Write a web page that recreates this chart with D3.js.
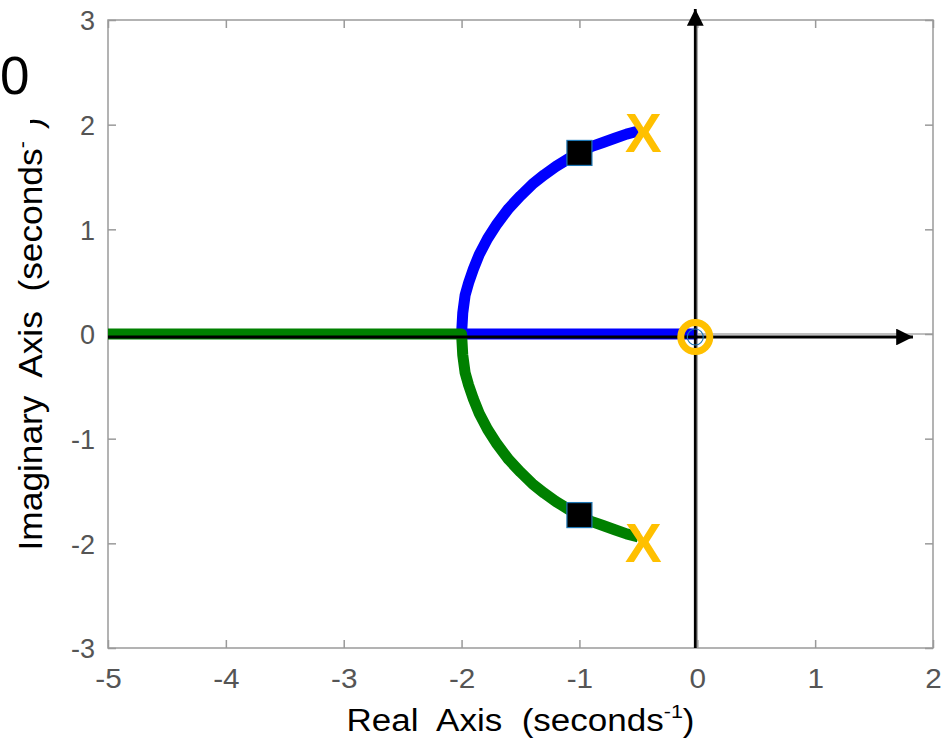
<!DOCTYPE html>
<html>
<head>
<meta charset="utf-8">
<script src="https://cdn.jsdelivr.net/npm/d3@7"></script>
<style>
  html, body { margin: 0; padding: 0; background: #fff; }
  svg { display: block; font-family: "Liberation Sans", Arial, sans-serif; }
</style>
</head>
<body>
<svg id="chart" width="945" height="738"></svg>
<script>
// Axis ranges and ticks
const xTicks = [-5, -4, -3, -2, -1, 0, 1, 2];
const yTicks = [-3, -2, -1, 0, 1, 2, 3];

// Upper branch of the locus (real, imag), from the pole to the break-in point, then along the real axis to the zero
const upperRe = [-0.5, -0.6, -0.7, -0.8, -0.9, -1.0, -1.1, -1.2, -1.3, -1.4, -1.5, -1.6, -1.7, -1.78, -1.85, -1.9, -1.94, -1.97, -1.99, -2.0, -1.5, -1.0, -0.5, 0];
const upperIm = [1.94, 1.91, 1.87, 1.83, 1.79, 1.73, 1.67, 1.6, 1.52, 1.43, 1.32, 1.2, 1.05, 0.91, 0.76, 0.62, 0.49, 0.37, 0.2, 0, 0, 0, 0, 0];

// Lower branch: from the pole down to the break-in point, then out along the negative real axis
const lowerRe = [-0.5, -0.6, -0.7, -0.8, -0.9, -1.0, -1.1, -1.2, -1.3, -1.4, -1.5, -1.6, -1.7, -1.78, -1.85, -1.9, -1.94, -1.97, -1.99, -2.0, -3.0, -4.0, -5.0];
const lowerIm = [-1.94, -1.91, -1.87, -1.83, -1.79, -1.73, -1.67, -1.6, -1.52, -1.43, -1.32, -1.2, -1.05, -0.91, -0.76, -0.62, -0.49, -0.37, -0.2, 0, 0, 0, 0];

// Open-loop poles, zero and the highlighted closed-loop roots
const poleRe = [-0.5, -0.5];
const poleIm = [1.94, -1.94];
const zeroRe = [0];
const zeroIm = [0];
const rootRe = [-1.0, -1.0];
const rootIm = [1.73, -1.73];

const svg = d3.select("#chart");
const plotL = 108, plotR = 933, plotT = 20, plotB = 648;

const x = d3.scaleLinear().domain([-5, 2]).range([plotL, plotR]);
const y = d3.scaleLinear().domain([-3, 3]).range([plotB, plotT]);

const frameColor = "#9a9a9a";
const tickText = "#555555";
const fmt = d => String(d);   // plain hyphen-minus

// Zero reference lines
svg.append("line").attr("x1", plotL).attr("x2", plotR).attr("y1", y(0)).attr("y2", y(0))
  .attr("stroke", "#aaaaaa").attr("stroke-width", 1.5);
svg.append("line").attr("x1", x(0)).attr("x2", x(0)).attr("y1", plotT).attr("y2", plotB)
  .attr("stroke", "#aaaaaa").attr("stroke-width", 1.5);

// Frame
svg.append("rect").attr("x", plotL).attr("y", plotT).attr("width", plotR - plotL).attr("height", plotB - plotT)
  .attr("fill", "none").attr("stroke", frameColor).attr("stroke-width", 1.5);

// Axes with inward ticks, mirrored on the top and right
const gx = svg.append("g").attr("transform", `translate(0,${plotB})`)
  .call(d3.axisBottom(x).tickValues(xTicks).tickSizeInner(-8).tickSizeOuter(0).tickPadding(25).tickFormat(fmt));
const gxTop = svg.append("g").attr("transform", `translate(0,${plotT})`)
  .call(d3.axisTop(x).tickValues(xTicks).tickSizeInner(-8).tickSizeOuter(0).tickFormat(""));
const gy = svg.append("g").attr("transform", `translate(${plotL},0)`)
  .call(d3.axisLeft(y).tickValues(yTicks).tickSizeInner(-8).tickSizeOuter(0).tickPadding(13).tickFormat(fmt));
const gyRight = svg.append("g").attr("transform", `translate(${plotR},0)`)
  .call(d3.axisRight(y).tickValues(yTicks).tickSizeInner(-8).tickSizeOuter(0).tickFormat(""));

[gx, gxTop, gy, gyRight].forEach(g => {
  g.select(".domain").remove();
  g.selectAll(".tick line").attr("stroke", frameColor).attr("stroke-width", 1.5);
  g.selectAll(".tick text").attr("fill", tickText).attr("font-size", 27)
    .attr("font-family", "Liberation Sans, Arial, sans-serif");
});
gx.selectAll(".tick text").attr("dy", "0.55em").attr("transform", "scale(1.1,1)");
gy.selectAll(".tick text").attr("dy", "0.36em");

// Locus branches
const line = d3.line().x(d => x(d[0])).y(d => y(d[1]));
const upper = upperRe.map((r, i) => [r, upperIm[i]]);
const lower = lowerRe.map((r, i) => [r, lowerIm[i]]);

svg.append("path").attr("d", line(upper)).attr("fill", "none")
  .attr("stroke", "#0000ff").attr("stroke-width", 11).attr("stroke-linejoin", "round");
svg.append("path").attr("d", line(lower)).attr("fill", "none")
  .attr("stroke", "#008000").attr("stroke-width", 11).attr("stroke-linejoin", "round");

// Black axis arrows through the origin
const defs = svg.append("defs");
defs.append("marker").attr("id", "arrow").attr("viewBox", "0 0 10 10")
  .attr("refX", 10).attr("refY", 5).attr("markerWidth", 6).attr("markerHeight", 6)
  .attr("markerUnits", "strokeWidth").attr("orient", "auto")
  .append("path").attr("d", "M0,0 L10,5 L0,10 Z").attr("fill", "#000");

svg.append("line").attr("x1", plotL).attr("x2", x(1.83)).attr("y1", y(0) + 3).attr("y2", y(0) + 3)
  .attr("stroke", "#000").attr("stroke-width", 2.8).attr("marker-end", "url(#arrow)");
svg.append("line").attr("x1", x(0) - 2).attr("x2", x(0) - 2).attr("y1", plotB).attr("y2", 9)
  .attr("stroke", "#000").attr("stroke-width", 2.8).attr("marker-end", "url(#arrow)");

// Highlighted closed-loop roots
const sq = 25;
svg.selectAll("rect.root").data(rootRe.map((r, i) => [r, rootIm[i]])).enter()
  .append("rect").attr("class", "root")
  .attr("x", d => x(d[0]) - sq / 2).attr("y", d => y(d[1]) - sq / 2)
  .attr("width", sq).attr("height", sq)
  .attr("fill", "#000").attr("stroke", "#1f77b4").attr("stroke-width", 1.2);

// Zero marker
zeroRe.forEach((r, i) => {
  svg.append("circle").attr("cx", x(r) - 2).attr("cy", y(zeroIm[i]) + 3).attr("r", 8)
    .attr("fill", "none").attr("stroke", "#1f77b4").attr("stroke-width", 1.2);
  svg.append("circle").attr("cx", x(r) - 2).attr("cy", y(zeroIm[i]) + 3).attr("r", 14.5)
    .attr("fill", "none").attr("stroke", "#ffc000").attr("stroke-width", 7);
});

// Pole markers
svg.selectAll("text.pole").data(poleRe.map((r, i) => [r, poleIm[i]])).enter()
  .append("text").attr("class", "pole")
  .attr("x", d => x(d[0]) + 5).attr("y", d => y(d[1]) + (d[1] > 0 ? 1 : 5))
  .attr("dy", "0.36em").attr("text-anchor", "middle")
  .attr("font-size", 55).attr("font-weight", "bold").attr("fill", "#ffc000")
  .text("X");

// Axis labels
const xl = svg.append("text").attr("transform", "translate(520.5,731) scale(1.13,1)")
  .attr("text-anchor", "middle")
  .attr("font-size", 31).attr("fill", "#000").style("white-space", "pre");
xl.append("tspan").text("Real  Axis  (seconds");
xl.append("tspan").attr("font-size", 19).attr("dy", -13).text("-1");
xl.append("tspan").attr("dy", 13).text(")");

const yl = svg.append("text").attr("transform", "translate(42,334) rotate(-90) scale(1.07,1)")
  .attr("text-anchor", "middle")
  .attr("font-size", 33).attr("fill", "#000").style("white-space", "pre");
yl.append("tspan").text("Imaginary  Axis  (seconds");
yl.append("tspan").attr("font-size", 20).attr("dy", -13).text("-1");
yl.append("tspan").attr("dy", 13).text(")");

// Panel label partly covering the end of the vertical axis label
svg.append("rect").attr("x", 0).attr("y", 40).attr("width", 30).attr("height", 100).attr("fill", "#fff");
svg.append("text").attr("x", 0).attr("y", 94).attr("font-size", 53).attr("fill", "#000").text("0");
</script>
</body>
</html>
